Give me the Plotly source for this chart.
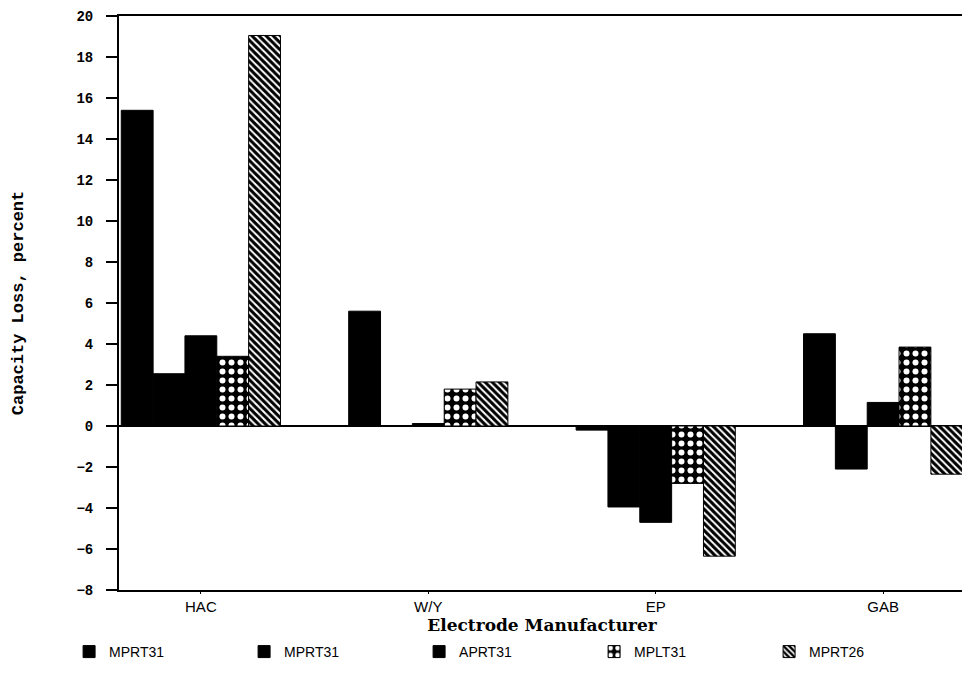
import plotly.graph_objects as go

# kategori & nilai per seri
manufacturers = ["HAC", "W/Y", "EP", "GAB"]
series_names = ["MPRT31", "MPRT31", "APRT31", "MPLT31", "MPRT26"]

mprt31_a = [15.4, 5.6, -0.2, 4.5]
mprt31_b = [2.55, 0.0, -3.95, -2.1]
aprt31 = [4.4, 0.12, -4.7, 1.15]
mplt31 = [3.4, 1.8, -2.8, 3.85]
mprt26 = [19.05, 2.15, -6.35, -2.35]

y_ticks = list(range(-8, 21, 2))

MONO = "Liberation Mono"
SANS = "Liberation Sans"

solid = dict(color="black")
dots = dict(color="black",
            pattern=dict(shape=".", fgcolor="white", bgcolor="black",
                         fgopacity=1, size=9, solidity=0.35))
hatch = dict(color="white",
             pattern=dict(shape="\\", fgcolor="black", bgcolor="white",
                          fgopacity=1, size=5, solidity=0.6))

styles = [solid, solid, solid, dots, hatch]
values = [mprt31_a, mprt31_b, aprt31, mplt31, mprt26]

fig = go.Figure()
for name, vals, st in zip(series_names, values, styles):
    fig.add_trace(go.Bar(
        x=manufacturers, y=vals, name=name,
        marker=dict(**st, line=dict(color="black", width=1)),
    ))

# halaman punya margin body 8px, jadi ukuran figur dikurangi
fig.update_layout(
    width=962, height=681,
    barmode="group", bargap=0.3, bargroupgap=0,
    plot_bgcolor="white", paper_bgcolor="white",
    margin=dict(l=111, r=5, t=8, b=99, autoexpand=False),
    showlegend=True,
    legend=dict(
        orientation="h", x=-0.059, xanchor="left", y=-0.108, yanchor="middle",
        entrywidth=130, entrywidthmode="pixels",
        font=dict(family="Liberation Sans Narrow, " + SANS, size=14, color="black"),
    ),
)

fig.update_xaxes(
    range=[-0.36, 3.36], automargin=False,
    showline=True, linecolor="black", linewidth=2, mirror=True,
    ticks="outside", ticklen=2, tickcolor="black",
    tickfont=dict(family=SANS, size=15, color="black"),
    title=dict(text="Electrode Manufacturer", standoff=2,
               font=dict(family="DejaVu Serif", size=17, color="black", weight="bold")),
    showgrid=False,
)

fig.update_yaxes(
    range=[-8, 20], tickvals=y_ticks, automargin=False,
    showline=True, linecolor="black", linewidth=2, mirror=True,
    ticks="outside", ticklen=11, tickwidth=2, tickcolor="black",
    ticklabelstandoff=10,
    tickfont=dict(family=MONO, size=14, color="black", weight="bold"),
    title=dict(text="Capacity Loss, percent", standoff=48,
               font=dict(family=MONO, size=17, color="black", weight="bold")),
    showgrid=False,
    zeroline=True, zerolinecolor="black", zerolinewidth=2,
)

fig.write_html("out.html")
